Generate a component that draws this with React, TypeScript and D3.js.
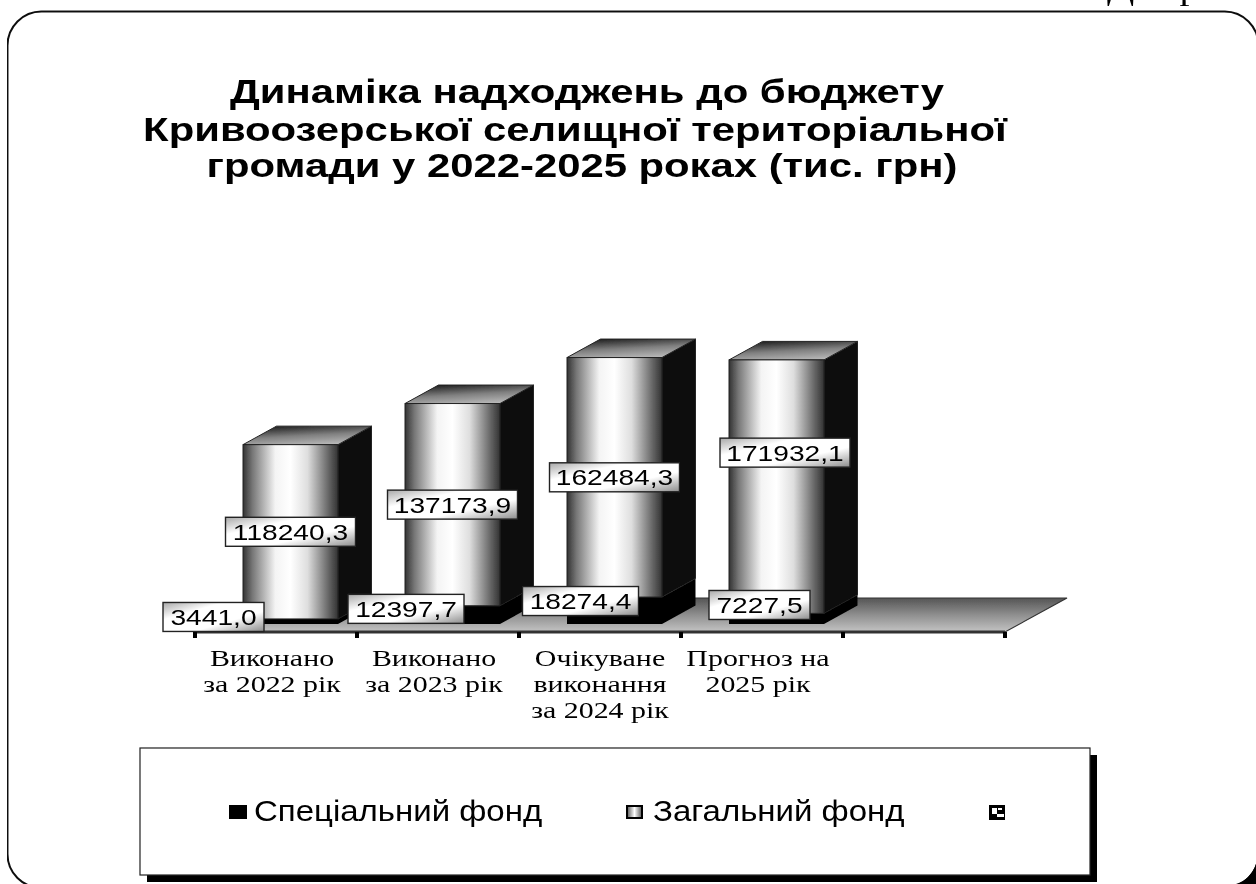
import * as d3 from "d3";

const W = 1256;
const H = 884;

const categories = [
  ["Виконано", "за 2022 рік"],
  ["Виконано", "за 2023 рік"],
  ["Очікуване", "виконання", "за 2024 рік"],
  ["Прогноз на", "2025 рік"],
];
const specialFund = [3441.0, 12397.7, 18274.4, 7227.5];
const generalFund = [118240.3, 137173.9, 162484.3, 171932.1];
const titleLines = [
  "Динаміка надходжень до бюджету",
  "Кривоозерської селищної територіальної",
  "громади у 2022-2025 роках (тис. грн)",
];
const legendNames = ["Спеціальний фонд", "Загальний фонд"];

// labels were dragged by hand in the original, so they sit off the segment centre
const specialLabelShift = [[-77, -4.5], [-46.5, -6], [-34, -9.5], [-17, -13.7]];
const generalLabelShift = [[0, 0], [0, 0], [0, 0], [8.5, -34]];
const categoryShift = [-4, -4, 0, -4];

const SANS = "'Liberation Sans', Arial, sans-serif";
const SERIF = "'Liberation Serif', 'Times New Roman', serif";

// 3D box depth and floor depth
const DEPTH = { x: 33.5, y: -18.5 };
const FLOOR = { x: 62, y: -34, base: 632 };
const BAR_INSET = { x: 14.5, y: -8 };

const fmt = (v: number) => v.toFixed(1).replace(".", ",");

const x = d3
  .scaleBand<number>()
  .domain(d3.range(5))
  .range([195, 1005])
  .paddingInner(0.4136)
  .paddingOuter(0.2068);

const y = d3
  .scaleLinear()
  .domain([0, 200000])
  .range([FLOOR.base + BAR_INSET.y, FLOOR.base + BAR_INSET.y - 294.8]);

const rows = categories.map((_, i) => ({
  i,
  special: specialFund[i],
  general: generalFund[i],
}));
const stacked = d3.stack<any>().keys(["special", "general"])(rows);

const poly = (pts: number[][]) => pts.map((p) => p.join(",")).join(" ");

const Stretched = ({ x: tx, y: ty, size, family, weight, sx = 1.3, anchor = "middle", children }: any) => (
  <text
    transform={`translate(${tx},${ty}) scale(${sx},1)`}
    fontSize={size}
    fontFamily={family}
    fontWeight={weight}
    textAnchor={anchor}
    fill="#000"
  >
    {children}
  </text>
);

const ValueLabel = ({ cx, cy, value, width }: any) => (
  <g>
    <rect
      x={cx - width / 2}
      y={cy - 14.5}
      width={width}
      height={29}
      fill="url(#labelGrad)"
      stroke="#222"
      strokeWidth={1.4}
    />
    <Stretched x={cx} y={cy + 8} size={22} family={SANS} sx={1.28}>
      {fmt(value)}
    </Stretched>
  </g>
);

export default function App() {
  const bw = x.bandwidth();
  const floorX0 = x.range()[0];
  const floorX1 = x.range()[1];
  const edges = d3.range(6).map((i) => floorX0 + i * x.step());

  return (
    <svg
      width={W}
      height={H}
      viewBox={`0 0 ${W} ${H}`}
      style={{ position: "absolute", left: 0, top: 0, background: "#fff" }}
    >
      <defs>
        <linearGradient id="frontGrad" x1="0" x2="1" y1="0" y2="0">
          <stop offset="0" stopColor="#333" />
          <stop offset="0.1" stopColor="#777" />
          <stop offset="0.34" stopColor="#f4f4f4" />
          <stop offset="0.5" stopColor="#ffffff" />
          <stop offset="0.68" stopColor="#dedede" />
          <stop offset="0.9" stopColor="#666" />
          <stop offset="1" stopColor="#333" />
        </linearGradient>
        <linearGradient id="topGrad" x1="0.3" x2="0.7" y1="0" y2="1">
          <stop offset="0" stopColor="#222" />
          <stop offset="0.5" stopColor="#808080" />
          <stop offset="1" stopColor="#bbb" />
        </linearGradient>
        <linearGradient id="floorGrad" x1="0" x2="0" y1="0" y2="1">
          <stop offset="0" stopColor="#555" />
          <stop offset="0.5" stopColor="#8f8f8f" />
          <stop offset="1" stopColor="#c4c4c4" />
        </linearGradient>
        <linearGradient id="labelGrad" x1="0" x2="1" y1="0" y2="1">
          <stop offset="0" stopColor="#a8a8a8" />
          <stop offset="0.3" stopColor="#fff" />
          <stop offset="0.65" stopColor="#fff" />
          <stop offset="1" stopColor="#8c8c8c" />
        </linearGradient>
        <linearGradient id="swatchGrad" x1="0" x2="1" y1="0" y2="0">
          <stop offset="0" stopColor="#555" />
          <stop offset="0.5" stopColor="#fff" />
          <stop offset="1" stopColor="#555" />
        </linearGradient>
        <filter id="soft" x="0" y="0" width="1" height="1">
          <feGaussianBlur stdDeviation="0.55" />
        </filter>
      </defs>

      <g filter="url(#soft)">
        {/* page text clipped by the top of the scan */}
        <Stretched x={1107} y={0} size={29} family={SERIF} anchor="start" sx={1.38}>
          Діаграма
        </Stretched>

        {/* outer frame runs off the right and bottom of the scan */}
        <rect x={7.5} y={11.5} width={1251} height={876.5} rx={34} ry={34} fill="none" stroke="#111" strokeWidth={2} />
        <path d="M1236,884 Q1250,880 1256,864 L1256,884 Z" fill="#000" />

        {titleLines.map((t, i) => (
          <Stretched key={i} x={[587, 575, 582][i]} y={[103, 141, 177][i]} size={34} family={SANS} weight={700} sx={1.23}>
            {t}
          </Stretched>
        ))}

        {/* floor */}
        <polygon
          points={poly([
            [floorX0, FLOOR.base],
            [floorX1, FLOOR.base],
            [floorX1 + FLOOR.x, FLOOR.base + FLOOR.y],
            [floorX0 + FLOOR.x, FLOOR.base + FLOOR.y],
          ])}
          fill="url(#floorGrad)"
          stroke="#333"
          strokeWidth={1.2}
        />
        <line x1={floorX0} x2={floorX1} y1={FLOOR.base} y2={FLOOR.base} stroke="#333" strokeWidth={3} />
        {edges.map((e) => (
          <rect key={e} x={e - 2} y={FLOOR.base} width={4} height={6} fill="#000" />
        ))}

        {/* bars */}
        {rows.map((_, i) => {
          const left = (x(i) as number) + BAR_INSET.x;
          const right = left + bw;
          const [s0, s1] = stacked[0][i];
          const [g0, g1] = stacked[1][i];
          const bottom = y(s0);
          const mid = y(s1);
          const top = y(g1);
          return (
            <g key={i}>
              <polygon
                points={poly([
                  [right, bottom],
                  [right + DEPTH.x, bottom + DEPTH.y],
                  [right + DEPTH.x, mid + DEPTH.y],
                  [right, mid],
                ])}
                fill="#000"
              />
              <rect x={left} y={mid} width={bw} height={bottom - mid} fill="#000" />
              <polygon
                points={poly([
                  [right, mid],
                  [right + DEPTH.x, mid + DEPTH.y],
                  [right + DEPTH.x, top + DEPTH.y],
                  [right, top],
                ])}
                fill="#0b0b0b"
                stroke="#222"
              />
              <polygon
                points={poly([
                  [left, top],
                  [right, top],
                  [right + DEPTH.x, top + DEPTH.y],
                  [left + DEPTH.x, top + DEPTH.y],
                ])}
                fill="url(#topGrad)"
                stroke="#222"
              />
              <rect x={left} y={top} width={bw} height={y(g0) - top} fill="url(#frontGrad)" stroke="#222" />
            </g>
          );
        })}

        {/* value labels sit over every bar */}
        {rows.map((r, i) => {
          const cx = (x(i) as number) + BAR_INSET.x + bw / 2;
          const [s0, s1] = stacked[0][i];
          const [g0, g1] = stacked[1][i];
          return (
            <g key={i}>
              <ValueLabel
                cx={cx + generalLabelShift[i][0]}
                cy={(y(g0) + y(g1)) / 2 + generalLabelShift[i][1]}
                value={r.general}
                width={130}
              />
              <ValueLabel
                cx={cx + specialLabelShift[i][0]}
                cy={(y(s0) + y(s1)) / 2 + specialLabelShift[i][1]}
                value={r.special}
                width={r.special >= 10000 ? 116 : 101}
              />
            </g>
          );
        })}

        {/* category labels */}
        {categories.map((lines, i) => (
          <g key={i}>
            {lines.map((l, j) => (
              <Stretched
                key={j}
                x={(x(i) as number) + bw / 2 + categoryShift[i]}
                y={665.5 + j * 26}
                size={24}
                family={SERIF}
                sx={1.247}
              >
                {l}
              </Stretched>
            ))}
          </g>
        ))}

        {/* legend */}
        <rect x={147} y={755} width={950} height={127} fill="#000" />
        <rect x={140} y={748} width={950} height={127} fill="#fff" stroke="#222" strokeWidth={1.2} />
        <rect x={229} y={805} width={18} height={14} fill="#000" />
        <Stretched x={254} y={821} size={30} family={SANS} anchor="start" sx={1.1}>
          {legendNames[0]}
        </Stretched>
        <rect x={627} y={806} width={15} height={12} fill="url(#swatchGrad)" stroke="#000" strokeWidth={2} />
        <Stretched x={653} y={821} size={30} family={SANS} anchor="start" sx={1.1}>
          {legendNames[1]}
        </Stretched>
        <rect x={989} y={805} width={16} height={15} fill="#000" />
        <rect x={992} y={808} width={5} height={6} fill="#fff" />
        <rect x={998} y={808} width={4} height={2} fill="#fff" />
        <rect x={997} y={814} width={7} height={3} fill="#fff" />
      </g>
    </svg>
  );
}
